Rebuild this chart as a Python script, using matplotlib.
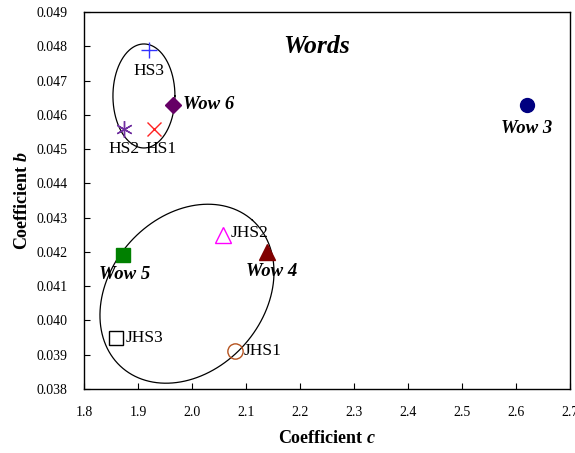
import numpy as np
import matplotlib
matplotlib.use("Agg")
import matplotlib.pyplot as plt

plt.rcParams['font.family'] = ['Liberation Serif', 'DejaVu Serif']
plt.rcParams['mathtext.fontset'] = 'custom'
plt.rcParams['mathtext.rm'] = 'Liberation Serif'
plt.rcParams['mathtext.it'] = 'Liberation Serif:italic'
plt.rcParams['mathtext.bf'] = 'Liberation Serif:bold'
plt.rcParams['mathtext.bfit'] = 'Liberation Serif:bold:italic'

# Data
labels = ['HS3', 'Wow 6', 'HS2', 'HS1', 'Wow 3', 'Wow 5', 'JHS2', 'Wow 4', 'JHS3', 'JHS1']
coef_c = [1.92, 1.965, 1.875, 1.93, 2.62, 1.873, 2.057, 2.138, 1.86, 2.08]
coef_b = [0.0479, 0.0463, 0.0456, 0.0456, 0.0463, 0.0419, 0.0425, 0.0420, 0.0395, 0.0391]
x_ticks = [1.8, 1.9, 2.0, 2.1, 2.2, 2.3, 2.4, 2.5, 2.6, 2.7]
y_ticks = [0.038, 0.039, 0.040, 0.041, 0.042, 0.043, 0.044, 0.045, 0.046, 0.047, 0.048, 0.049]

styles = {
    'HS3':   dict(marker='+', color='#3333ff', ms=12, mfc='none', mew=1.0),
    'Wow 6': dict(marker='D', color='#660066', ms=8, mfc='#660066', mew=1.0),
    'HS2':   dict(marker=(6, 2, 0), color='#7030a0', ms=12, mfc='none', mew=1.0),
    'HS1':   dict(marker='x', color='#ff2222', ms=10, mfc='none', mew=1.0),
    'Wow 3': dict(marker='o', color='#000080', ms=10, mfc='#000080', mew=1.0),
    'Wow 5': dict(marker='s', color='#008000', ms=9.5, mfc='#008000', mew=1.0),
    'JHS2':  dict(marker='^', color='#ff00ff', ms=11, mfc='none', mew=1.0),
    'Wow 4': dict(marker='^', color='#800000', ms=11, mfc='#800000', mew=1.0),
    'JHS3':  dict(marker='s', color='#000000', ms=10, mfc='none', mew=1.0),
    'JHS1':  dict(marker='o', color='#b5531f', ms=11, mfc='none', mew=1.0),
}
# text offsets (points), alignment, style
label_pos = {
    'HS3':   ((0, -15), 'center', False),
    'Wow 6': ((7, 0), 'left', True),
    'HS2':   ((0, -15), 'center', False),
    'HS1':   ((5, -15), 'center', False),
    'Wow 3': ((0, -17), 'center', True),
    'Wow 5': ((1, -14), 'center', True),
    'JHS2':  ((6, 1), 'left', False),
    'Wow 4': ((4, -14), 'center', True),
    'JHS3':  ((7, 0), 'left', False),
    'JHS1':  ((6, 0), 'left', False),
}

fig = plt.figure(figsize=(5.75, 4.53), dpi=100)
ax = fig.add_axes([84/575, 1-389/453, 486/575, 377/453])

for lab, x, y in zip(labels, coef_c, coef_b):
    st = styles[lab]
    ax.plot([x], [y], linestyle='none', marker=st['marker'], color=st['color'],
            markersize=st['ms'], markerfacecolor=st['mfc'], markeredgewidth=st['mew'],
            zorder=3)
    off, ha, bold = label_pos[lab]
    ax.annotate(lab, (x, y), xytext=off, textcoords='offset points', ha=ha, va='center',
                fontsize=13.5 if bold else 12.5,
                fontweight='bold' if bold else 'normal',
                fontstyle='italic' if bold else 'normal', color='black', zorder=4)

# Group ellipses (drawn parametrically; pixel-scale conversion)
sx = 540.0    # px per unit c
sy = 34270.0  # px per unit b
t = np.linspace(0, 2*np.pi, 400)
def ellipse(cx, cy, a, b, theta_deg):
    th = np.deg2rad(theta_deg)
    px = a*np.cos(t)*np.cos(th) - b*np.sin(t)*np.sin(th)
    py = a*np.cos(t)*np.sin(th) + b*np.sin(t)*np.cos(th)
    return cx + px/sx, cy + py/sy

ex, ey = ellipse(1.911, 0.04655, 31, 52, 0)
ax.plot(ex, ey, color='black', lw=0.9, zorder=2)
ex, ey = ellipse(1.9907, 0.04078, 98.4, 76.8, 48.3)
ax.plot(ex, ey, color='black', lw=0.9, zorder=2)

ax.text(2.2315, 0.04798, 'Words', fontsize=18.5, fontweight='bold', fontstyle='italic',
        ha='center', va='center')

ax.set_xlim(1.8, 2.7)
ax.set_ylim(0.038, 0.049)
ax.set_xticks(x_ticks)
ax.set_xticklabels([f'{v:.1f}' for v in x_ticks])
ax.set_yticks(y_ticks)
ax.set_yticklabels([f'{v:.3f}' for v in y_ticks])
ax.tick_params(direction='in', length=4, width=0.8, labelsize=10)
ax.tick_params(axis='x', pad=12)
ax.tick_params(axis='y', pad=12)
for s in ax.spines.values():
    s.set_linewidth(1.0)

ax.set_xlabel('Coefficient $\\mathbfit{c}$', fontsize=13, fontweight='bold', labelpad=8)
ax.set_ylabel('Coefficient $\\mathbfit{b}$', fontsize=13, fontweight='bold', labelpad=4)

fig.savefig('out.png', dpi=100)
